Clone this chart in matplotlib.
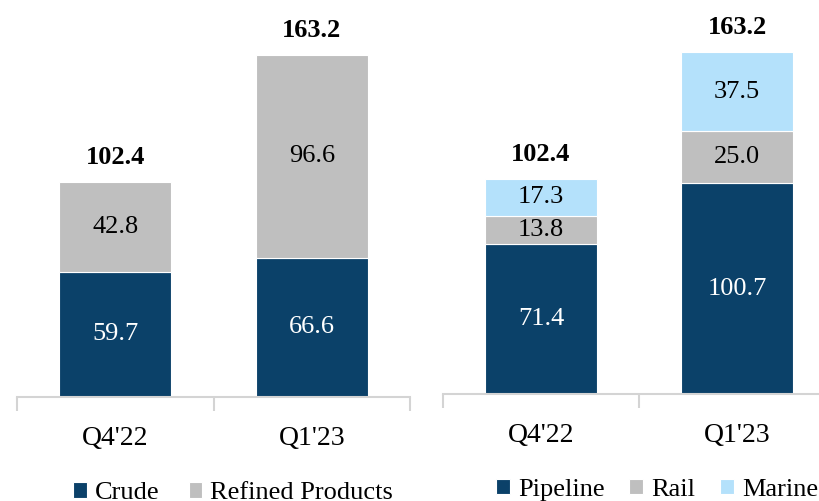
import numpy as np
import matplotlib.pyplot as plt

# volumes by quarter
quarters = ["Q4'22", "Q1'23"]
crude = [59.7, 66.6]
refined = [42.8, 96.6]
pipeline = [71.4, 100.7]
rail = [13.8, 25.0]
marine = [17.3, 37.5]
totals = [102.4, 163.2]

NAVY = "#0B4169"
GRAY = "#BFBFBF"
LIGHT = "#B4E1FB"
AXIS = "#D4D4D4"

plt.rcParams['font.family'] = ['Liberation Serif', 'DejaVu Serif']

fig = plt.figure(figsize=(8.19, 5.01), dpi=100)
W, H = 819, 501
PX_PER_UNIT = 2.094


def make_axes(x0, x1, base):
    ax = fig.add_axes([x0 / W, 1 - base / H, (x1 - x0) / W, base / H])
    ax.set_xlim(-0.5, 1.5)
    ax.set_ylim(0, base / PX_PER_UNIT)
    for s in ['top', 'right', 'left']:
        ax.spines[s].set_visible(False)
    ax.spines['bottom'].set_color(AXIS)
    ax.spines['bottom'].set_linewidth(1.5)
    ax.set_yticks([])
    ax.set_xticks([-0.5, 0.5, 1.5])
    ax.set_xticklabels([])
    ax.tick_params(axis='x', which='major', length=10, width=1.5, color=AXIS)
    ax.set_xticks([0, 1], minor=True)
    ax.set_xticklabels(quarters, minor=True, fontsize=20)
    ax.tick_params(axis='x', which='minor', length=0, pad=21)
    return ax


def stack(ax, series, colors, text_colors, labels):
    x = np.arange(len(quarters))
    bottom = np.zeros(len(quarters))
    for vals, col, tc, lab in zip(series, colors, text_colors, labels):
        vals = np.array(vals)
        ax.bar(x, vals, 0.57, bottom=bottom, color=col, edgecolor='white',
               linewidth=0.8, label=lab)
        for xi, v, bt in zip(x, vals, bottom):
            ax.text(xi, bt + v / 2, f"{v:.1f}", ha='center', va='center',
                    fontsize=19, color=tc)
        bottom = bottom + vals
    # totals above each stack
    for xi, top, t in zip(x, bottom, totals):
        ax.text(xi, top + 12, f"{t:.1f}", ha='center', va='center',
                fontsize=19, fontweight='bold', color='black')


legend_kw = dict(loc='center', frameon=False, fontsize=19, handlelength=0.52,
                 handleheight=0.52, handletextpad=0.3)

ax1 = make_axes(17, 410, 397)
stack(ax1, [crude, refined], [NAVY, GRAY], ['white', 'black'],
      ['Crude', 'Refined Products'])
ax1.legend(bbox_to_anchor=(0.55, -0.243), ncol=2, columnspacing=1.1,
           **legend_kw)

ax2 = make_axes(443, 835, 394)
stack(ax2, [pipeline, rail, marine], [NAVY, GRAY, LIGHT],
      ['white', 'black', 'black'], ['Pipeline', 'Rail', 'Marine'])
ax2.legend(bbox_to_anchor=(0.546, -0.243), ncol=3, columnspacing=0.95,
           **legend_kw)

fig.savefig('out.png', dpi=100)
